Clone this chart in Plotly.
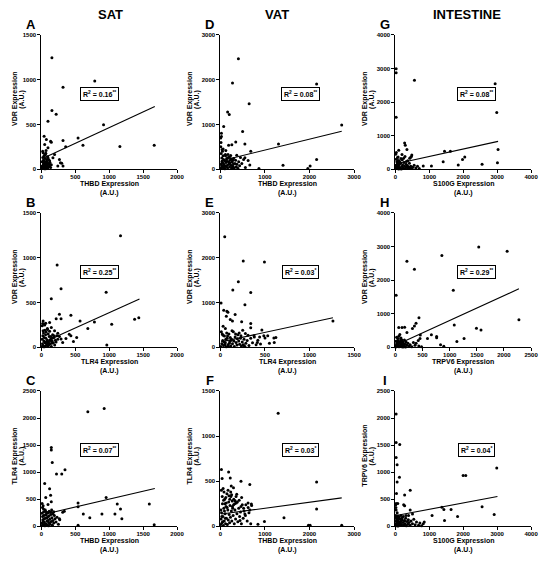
import plotly.graph_objects as go

OFF = 8                      # the page body adds an 8px margin
W, H = 550 - OFF, 561 - OFF
FONT = "Liberation Sans, Arial, sans-serif"

# ---- values (A.U.) ----
# A: SAT, THBD vs VDR
a_x = [154, 786, 318, 665, 154, 217, 96, 916, 540, 318, 612, 1157, 1663, 357, 39, 72, 135, 145, 48, 96, 24, 58, 96, 169, 193, 265, 299, 241, 318, 280, 34,
       8, 15, 22, 30, 35, 42, 48, 55, 60, 66, 72, 80, 88, 95, 12, 20, 28, 38, 45, 52, 58, 64, 70, 76, 84, 90, 100, 110, 120,
       18, 26, 33, 40, 50, 62, 74, 86, 98, 5, 68, 105, 115, 125, 135, 145]
a_y = [1244, 986, 916, 799, 655, 615, 537, 497, 350, 320, 269, 254, 269, 250, 368, 331, 313, 302, 276, 239, 184, 166, 129, 129, 166, 110, 66, 37, 37, 74, 55,
       12, 40, 8, 60, 25, 90, 15, 45, 5, 70, 30, 110, 50, 20, 85, 130, 100, 150, 5, 120, 35, 180, 10, 55, 80, 140, 25, 60, 95,
       200, 20, 75, 40, 160, 28, 90, 12, 65, 30, 210, 110, 35, 75, 20, 50]
a_line_x = [40, 1672]
a_line_y = [129, 700]

# D: VAT, THBD vs VDR
d_x = [403, 271, 2159, 644, 161, 198, 2723, 73, 498, 22, 22, 1303, 549, 344, 256, 183, 681, 37, 110, 366, 2159, 549, 622, 1405, 2013, 1962, 864, 659,
       10, 25, 40, 55, 70, 85, 100, 115, 130, 145, 160, 175, 190, 205, 220, 235, 250, 265, 280, 295, 310, 325, 340, 355, 370, 390, 410, 430,
       15, 30, 45, 60, 20, 35, 50, 65, 80, 95, 110, 125, 140, 155, 170, 185, 200, 215, 230, 245, 260, 275, 290,
       120, 60, 8, 12, 5, 450, 480, 520, 560]
d_y = [2467, 1925, 1903, 1464, 1281, 1222, 988, 952, 842, 805, 732, 564, 564, 607, 549, 534, 403, 439, 329, 315, 220, 256, 198, 88, 73, 15, 15, 95,
       20, 80, 150, 40, 220, 100, 10, 300, 60, 180, 30, 260, 120, 50, 200, 90, 15, 160, 70, 240, 30, 130, 200, 55, 110, 20, 170, 80,
       350, 250, 400, 300, 120, 180, 60, 130, 20, 190, 70, 150, 240, 90, 330, 170, 270, 140, 310, 230, 40, 200, 120,
       420, 450, 500, 600, 700, 260, 130, 220, 40]
d_line_x = [22, 2723]
d_line_y = [190, 850]

# G: intestine, S100G vs VDR
g_x = [19, 19, 559, 2940, 2988, 19, 3027, 270, 289, 337, 96, 1620, 1446, 482, 434, 2044, 1977, 1407, 3008, 2555, 1851, 1060, 819, 193, 77,
       10, 30, 50, 70, 90, 110, 130, 150, 170, 190, 210, 230, 250, 270, 290, 310, 330, 350, 370, 390, 410, 430, 450,
       480, 510, 550, 600, 650, 700, 20, 40, 60, 80, 15, 35, 55, 75, 95, 115, 135,
       160, 200, 240, 280, 320, 360, 420, 470, 25, 5]
g_y = [2990, 2870, 2646, 2548, 1686, 1548, 588, 784, 715, 588, 568, 539, 539, 421, 343, 363, 294, 225, 196, 147, 127, 98, 98, 441, 363,
       20, 60, 150, 30, 100, 250, 50, 180, 10, 80, 130, 40, 200, 90, 20, 150, 60, 110, 30, 70, 180, 40, 90,
       20, 60, 120, 40, 90, 20, 300, 220, 350, 180, 120, 80, 40, 260, 10, 140, 210,
       320, 280, 330, 380, 230, 250, 330, 380, 500, 450]
g_line_x = [19, 3027]
g_line_y = [162, 830]

# B: SAT, TLR4 vs VDR
b_x = [1166, 231, 289, 145, 954, 1374, 1436, 1036, 434, 569, 781, 684, 410, 434, 520, 472, 964, 265, 289, 217, 24, 63, 48, 120, 145, 87, 24, 193, 241, 265, 289, 313, 361, 183,
       5, 15, 25, 35, 45, 55, 65, 75, 85, 95, 105, 115, 125, 135, 145, 155, 165, 175, 185, 195, 205, 215, 225, 240,
       10, 20, 30, 40, 50, 60, 70, 80, 90, 100, 110, 120, 130, 140, 150, 160, 30, 60, 90, 12, 18, 40]
b_y = [1244, 920, 655, 541, 615, 313, 331, 258, 357, 294, 283, 210, 147, 129, 110, 66, 26, 368, 320, 320, 294, 269, 250, 276, 221, 210, 184, 184, 158, 121, 92, 55, 99, 129,
       10, 40, 20, 70, 5, 50, 100, 30, 80, 15, 60, 120, 40, 90, 10, 70, 140, 50, 110, 25, 80, 60, 130, 90,
       90, 130, 160, 110, 190, 140, 170, 60, 200, 150, 25, 180, 75, 120, 45, 100, 5, 15, 45, 240, 265, 260]
b_line_x = [24, 1446]
b_line_y = [55, 540]

# E: VAT, TLR4 vs VDR
e_x = [48, 256, 494, 201, 139, 340, 275, 7, 37, 73, 84, 165, 66, 110, 135, 238, 340, 465, 1263, 340, 531, 487, 377, 622, 604, 450, 414,
       5, 15, 25, 35, 45, 55, 65, 75, 85, 95, 105, 115, 125, 135, 145, 155, 165, 175, 185, 195, 205, 215, 225, 235, 245, 255, 265, 275, 285,
       300, 320, 340, 360, 380, 400, 420, 10, 20, 30, 40, 50, 60, 70, 80, 90, 100, 110, 120, 130,
       150, 170, 190, 210, 230, 250, 280, 310, 30, 55, 440, 500, 550, 600, 260]
e_y = [2467, 1925, 1903, 1464, 1281, 1222, 952, 988, 827, 805, 783, 732, 695, 622, 586, 571, 534, 388, 586, 439, 256, 256, 256, 220, 110, 73, 110,
       20, 80, 150, 40, 250, 100, 10, 200, 60, 300, 130, 30, 180, 80, 350, 20, 230, 110, 50, 280, 140, 70, 200, 30, 120, 60, 180, 20, 90,
       150, 40, 200, 100, 230, 60, 160, 350, 300, 270, 120, 60, 180, 320, 250, 20, 90, 220, 160, 370,
       140, 300, 190, 320, 260, 380, 310, 270, 470, 420, 230, 210, 90, 210, 40]
e_line_x = [7, 1263]
e_line_y = [122, 660]

# H: intestine, TRPV6 vs VDR
h_x = [1535, 2059, 855, 211, 349, 1066, 12, 2276, 433, 379, 349, 313, 1084, 1493, 1577, 60, 120, 169, 211, 662, 590, 759, 759, 1265, 1132, 831, 891, 458, 452,
       5, 15, 25, 35, 45, 55, 65, 75, 85, 95, 105, 115, 125, 135, 145, 155, 165, 175, 185, 195,
       210, 230, 250, 270, 300, 330, 360, 20, 40, 60, 80, 100, 120, 50, 30, 70, 90, 110, 10, 140, 380, 420, 430, 480]
h_y = [2989, 2862, 2734, 2558, 2323, 1695, 1548, 823, 882, 715, 637, 559, 666, 568, 519, 588, 588, 598, 441, 372, 265, 323, 284, 265, 176, 78, 29, 363, 265,
       10, 60, 120, 30, 200, 80, 15, 150, 50, 250, 100, 20, 170, 70, 130, 40, 220, 90, 10, 160,
       60, 120, 30, 80, 20, 140, 60, 300, 260, 330, 380, 280, 220, 160, 90, 40, 180, 60, 180, 10, 120, 200, 40, 20]
h_line_x = [0, 2276]
h_line_y = [60, 1740]

# C: SAT, THBD vs TLR4
c_x = [925, 684, 145, 145, 159, 347, 222, 299, 48, 120, 135, 63, 954, 540, 145, 96, 1591, 1118, 1166, 337, 313, 540, 617, 892, 1084, 713, 1186, 265, 540, 1663,
       5, 12, 20, 28, 35, 42, 50, 58, 66, 74, 82, 90, 98, 106, 114, 122, 130, 138, 146, 154, 162, 170,
       180, 190, 200, 215, 230, 250, 270, 8, 16, 24, 32, 40, 48, 56, 64, 72, 80, 88, 96, 104, 112, 120,
       15, 30, 60, 100, 140, 150, 170, 180, 10, 25]
c_y = [2178, 2118, 1458, 1410, 1180, 1047, 968, 968, 793, 696, 575, 532, 532, 430, 454, 405, 411, 411, 321, 278, 260, 363, 230, 230, 230, 157, 139, 139, 18, 30,
       15, 60, 120, 30, 200, 80, 10, 150, 50, 250, 100, 20, 180, 70, 280, 130, 40, 220, 90, 160, 20, 110,
       60, 200, 140, 80, 170, 40, 120, 240, 180, 90, 270, 140, 50, 300, 210, 30, 160, 240, 110, 10, 190, 60,
       350, 320, 280, 260, 260, 300, 230, 270, 420, 380]
c_line_x = [30, 1672]
c_line_y = [220, 700]

# F: VAT, THBD vs TLR4
f_x = [1296, 22, 37, 183, 220, 242, 461, 659, 2159, 2159, 1427, 988, 842, 1976, 2013, 2723, 695, 622, 549, 439, 293, 366, 329, 476,
       5, 15, 25, 35, 45, 55, 65, 75, 85, 95, 105, 115, 125, 135, 145, 155, 165, 175, 185, 195, 205, 215, 225, 235, 245, 255, 265, 275, 285, 295,
       310, 325, 340, 355, 370, 390, 410, 430, 450, 470, 490, 510, 530, 560, 600, 640, 680,
       20, 40, 60, 80, 100, 120, 10, 30, 50, 70, 90, 110, 130, 150, 170, 190, 210, 230, 250, 270,
       300, 320, 350, 380, 420, 460, 520, 570, 620, 660, 700]
f_y = [1252, 629, 530, 603, 537, 446, 501, 465, 490, 192, 94, 54, 22, 11, 11, 11, 247, 210, 138, 65, 428, 356, 283, 319,
       20, 80, 150, 40, 250, 110, 10, 200, 60, 300, 140, 30, 220, 90, 360, 20, 180, 70, 270, 130, 40, 230, 100, 330, 170, 60, 280, 200, 120, 240,
       30, 180, 80, 260, 140, 50, 200, 110, 160, 30, 240, 90, 170, 120, 60, 150, 30,
       400, 330, 420, 380, 250, 320, 180, 110, 50, 290, 170, 90, 260, 210, 400, 340, 300, 380, 350, 220,
       300, 250, 330, 270, 290, 220, 200, 240, 260, 180, 230]
f_line_x = [22, 2723]
f_line_y = [136, 315]

# I: intestine, S100G vs TRPV6
i_x = [19, 19, 125, 19, 48, 116, 48, 29, 434, 270, 241, 270, 19, 67, 1996, 2073, 2988, 2555, 2912, 1369, 1427, 1639, 1832, 1080, 1446, 848, 819, 434, 501, 386, 771,
       5, 15, 25, 35, 45, 55, 65, 75, 85, 95, 105,
       120, 135, 150, 165, 180, 200, 220, 240, 260, 280, 300, 320, 340, 360, 380, 400, 430, 460, 500, 540, 580, 620, 680, 720,
       10, 20, 30, 40, 50, 60, 70, 80, 90, 110, 130, 160, 190, 230, 270, 310, 18, 8, 12]
i_y = [2075, 1549, 1513, 1271, 1137, 907, 817, 605, 665, 581, 399, 381, 424, 424, 938, 938, 1077, 363, 218, 351, 309, 309, 182, 200, 109, 79, 48, 302, 230, 200, 10,
       10, 50, 100, 20, 150, 60, 5, 120, 40, 180, 80,
       15, 140, 60, 100, 30, 160, 70, 20, 110, 50, 150, 10, 90, 40, 120, 70, 20, 100, 50, 130, 30, 80, 20, 60,
       200, 170, 140, 80, 250, 30, 190, 100, 10, 150, 40, 200, 120, 180, 100, 200, 300, 400, 350]
i_line_x = [19, 3008]
i_line_y = [200, 550]

col_titles = ["SAT", "VAT", "INTESTINE"]
letters = ["A", "B", "C", "D", "E", "F", "G", "H", "I"]
r2_labels = ["0.16<sup>**</sup>", "0.25<sup>**</sup>", "0.07<sup>**</sup>",
             "0.08<sup>**</sup>", "0.03<sup>*</sup>", "0.03<sup>*</sup>",
             "0.08<sup>**</sup>", "0.29<sup>**</sup>", "0.04<sup>*</sup>"]
x_titles = ["THBD", "TLR4", "THBD", "THBD", "TLR4", "THBD", "S100G", "TRPV6", "S100G"]
y_titles = ["VDR", "VDR", "TLR4", "VDR", "VDR", "TLR4", "VDR", "VDR", "TRPV6"]
x_max = [2000, 2000, 2000, 3000, 1500, 3000, 4000, 2500, 4000]
x_step = [500, 500, 500, 1000, 500, 1000, 1000, 500, 1000]
y_max = [1500, 1500, 2500, 3000, 3000, 1500, 4000, 4000, 2500]
y_step = [500, 500, 500, 1000, 1000, 500, 1000, 1000, 500]

panels_xy = [(a_x, a_y, a_line_x, a_line_y), (b_x, b_y, b_line_x, b_line_y), (c_x, c_y, c_line_x, c_line_y),
             (d_x, d_y, d_line_x, d_line_y), (e_x, e_y, e_line_x, e_line_y), (f_x, f_y, f_line_x, f_line_y),
             (g_x, g_y, g_line_x, g_line_y), (h_x, h_y, h_line_x, h_line_y), (i_x, i_y, i_line_x, i_line_y)]

# pixel boxes of the plot areas (window pixels)
cols_px = [(40, 178), (222, 358), (400, 538)]
rows_px = [(32, 168), (212, 348), (392, 529)]
box_fx = [0.43, 0.60, 0.60]   # R² box centre, fraction of plot width per column


def px(x):
    return (x - OFF) / W


def py(y):
    return 1 - (y - OFF) / H


fig = go.Figure()
annotations = []

for k in range(9):
    col, row = k // 3, k % 3
    n = k + 1
    xs, ys, lx, ly = panels_xy[k]
    xa, ya = "x%d" % n, "y%d" % n

    fig.add_trace(go.Scatter(x=xs, y=ys, mode="markers", xaxis=xa, yaxis=ya,
                             marker=dict(color="black", size=3), cliponaxis=False,
                             showlegend=False, hoverinfo="skip"))
    fig.add_trace(go.Scatter(x=lx, y=ly, mode="lines", xaxis=xa, yaxis=ya,
                             line=dict(color="black", width=1.1), cliponaxis=False,
                             showlegend=False, hoverinfo="skip"))

    x0, x1 = cols_px[col]
    y0, y1 = rows_px[row]
    axis = dict(showgrid=False, zeroline=False, showline=True, linecolor="black", linewidth=1.3,
                ticks="outside", ticklen=3, tickwidth=1.2, tickcolor="black",
                tickfont=dict(family=FONT, size=6, color="black", weight="bold"), fixedrange=True)
    fig.update_layout({
        "xaxis%d" % n: dict(axis, domain=[px(x0), px(x1)], anchor=ya,
                            range=[0, x_max[k] * 1.001], ticklabelstandoff=-2,
                            tickvals=list(range(0, x_max[k] + 1, x_step[k]))),
        "yaxis%d" % n: dict(axis, domain=[py(y1), py(y0)], anchor=xa,
                            range=[0, y_max[k] * 1.001],
                            tickvals=list(range(0, y_max[k] + 1, y_step[k]))),
    })

    common = dict(xref="paper", yref="paper", showarrow=False, xanchor="center", yanchor="middle")
    small = dict(family=FONT, size=7, color="black")
    # panel letter
    annotations.append(dict(common, text="<b>%s</b>" % letters[k], x=px(x0 - 11), y=py(y0 - 10.5),
                            font=dict(family=FONT, size=13, color="black")))
    # x-axis title, two lines
    annotations.append(dict(common, text="<b>%s Expression</b>" % x_titles[k],
                            x=px((x0 + x1) / 2), y=py(y1 + 15), font=small))
    annotations.append(dict(common, text="<b>(A.U.)</b>",
                            x=px((x0 + x1) / 2), y=py(y1 + 23.5), font=small))
    # y-axis title, two lines (first column squeezed in by the page edge)
    yx = max(x0 - 31, 13)
    annotations.append(dict(common, text="<b>%s Expression</b>" % y_titles[k], textangle=-90,
                            x=px(yx), y=py((y0 + y1) / 2 - 3), font=small))
    annotations.append(dict(common, text="<b>(A.U.)</b>", textangle=-90,
                            x=px(yx + 7), y=py((y0 + y1) / 2 - 3), font=small))
    # R² box
    annotations.append(dict(common, text="<b>R<sup>2</sup> = %s</b>" % r2_labels[k],
                            x=px(x0 + box_fx[col] * (x1 - x0)), y=py(y1 - 0.56 * (y1 - y0)),
                            bordercolor="black", borderwidth=1, borderpad=2, bgcolor="white",
                            font=small))

for j, t in enumerate(col_titles):
    cx = [110, 280, 473][j]
    annotations.append(dict(text="<b>%s</b>" % t, x=px(cx), y=py(11.5), xref="paper", yref="paper",
                            xanchor="center", yanchor="middle", showarrow=False,
                            font=dict(family=FONT, size=13, color="black")))

fig.update_layout(width=W, height=H, margin=dict(l=0, r=0, t=0, b=0),
                  paper_bgcolor="white", plot_bgcolor="white",
                  annotations=annotations, showlegend=False)

fig.write_html("out.html", config={"displayModeBar": False})
